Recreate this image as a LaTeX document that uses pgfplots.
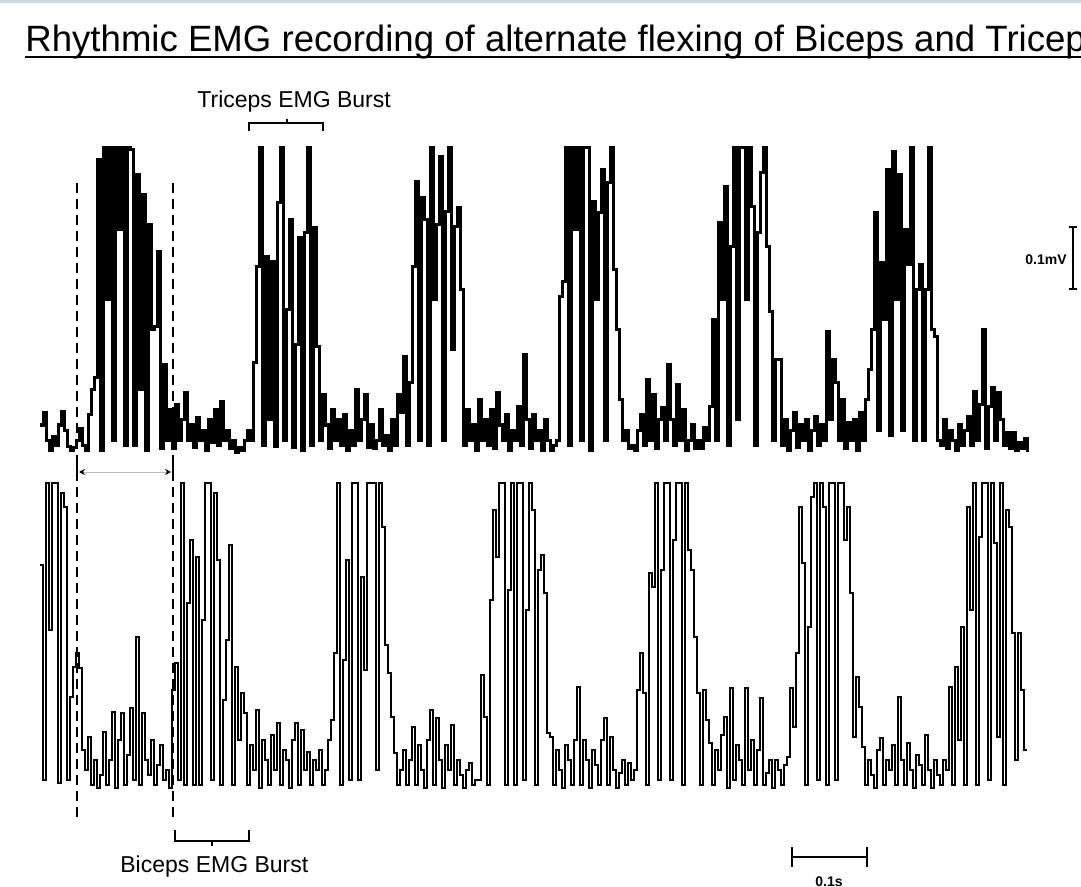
\documentclass[border=0pt]{standalone}
\usepackage{fontspec}
\setmainfont{Liberation Sans}
\usepackage{pgfplots}
\usepackage{pgfplotstable}
\pgfplotsset{compat=1.18}
\usetikzlibrary{arrows.meta}
\definecolor{topband}{RGB}{205,215,228}
\definecolor{arrowgrey}{RGB}{185,185,185}

% pixel y of each trace, one sample every 3 px starting at x = 40
\pgfplotstableread[row sep=\\]{
y\\
425\\ 413\\ 440\\ 450\\ 436\\ 445\\ 425\\ 412\\ 430\\ 446\\
450\\ 447\\ 440\\ 428\\ 445\\ 450\\ 415\\ 390\\ 378\\ 160\\
450\\ 148\\ 300\\ 148\\ 440\\ 148\\ 230\\ 148\\ 445\\ 148\\
150\\ 445\\ 175\\ 390\\ 195\\ 450\\ 225\\ 330\\ 327\\ 252\\
448\\ 365\\ 440\\ 410\\ 448\\ 405\\ 440\\ 420\\ 393\\ 440\\
425\\ 447\\ 418\\ 440\\ 430\\ 450\\ 420\\ 442\\ 410\\ 445\\
402\\ 440\\ 430\\ 448\\ 440\\ 452\\ 447\\ 450\\ 440\\ 430\\
440\\ 363\\ 267\\ 148\\ 445\\ 257\\ 420\\ 262\\ 446\\ 203\\
148\\ 440\\ 310\\ 220\\ 447\\ 345\\ 238\\ 450\\ 233\\ 148\\
445\\ 228\\ 347\\ 440\\ 395\\ 425\\ 448\\ 410\\ 440\\ 420\\
445\\ 415\\ 450\\ 430\\ 445\\ 390\\ 440\\ 420\\ 395\\ 447\\
425\\ 448\\ 440\\ 410\\ 445\\ 435\\ 450\\ 420\\ 445\\ 395\\
413\\ 357\\ 445\\ 383\\ 267\\ 182\\ 440\\ 198\\ 220\\ 445\\
148\\ 300\\ 225\\ 157\\ 440\\ 212\\ 148\\ 350\\ 227\\ 208\\
290\\ 445\\ 410\\ 440\\ 425\\ 450\\ 400\\ 440\\ 420\\ 445\\
410\\ 448\\ 393\\ 425\\ 440\\ 415\\ 450\\ 430\\ 440\\ 407\\
445\\ 355\\ 420\\ 448\\ 415\\ 440\\ 430\\ 450\\ 420\\ 440\\
450\\ 445\\ 440\\ 297\\ 282\\ 148\\ 445\\ 148\\ 230\\ 148\\
440\\ 148\\ 148\\ 450\\ 202\\ 300\\ 213\\ 170\\ 440\\ 183\\
148\\ 270\\ 330\\ 400\\ 440\\ 430\\ 448\\ 445\\ 450\\ 430\\
415\\ 445\\ 380\\ 440\\ 395\\ 448\\ 420\\ 408\\ 440\\ 365\\
420\\ 445\\ 385\\ 440\\ 410\\ 450\\ 440\\ 425\\ 448\\ 440\\
448\\ 427\\ 440\\ 407\\ 320\\ 440\\ 223\\ 300\\ 187\\ 445\\
247\\ 148\\ 420\\ 148\\ 148\\ 300\\ 148\\ 207\\ 445\\ 233\\
173\\ 148\\ 247\\ 312\\ 440\\ 360\\ 360\\ 445\\ 420\\ 450\\
430\\ 413\\ 447\\ 425\\ 440\\ 420\\ 450\\ 430\\ 417\\ 445\\
425\\ 440\\ 332\\ 420\\ 360\\ 383\\ 440\\ 400\\ 448\\ 423\\
440\\ 420\\ 450\\ 413\\ 440\\ 400\\ 370\\ 330\\ 213\\ 430\\
263\\ 320\\ 170\\ 435\\ 152\\ 300\\ 175\\ 430\\ 230\\ 265\\
148\\ 440\\ 290\\ 265\\ 440\\ 290\\ 148\\ 330\\ 337\\ 440\\
445\\ 420\\ 448\\ 430\\ 440\\ 450\\ 425\\ 445\\ 430\\ 417\\
445\\ 392\\ 440\\ 405\\ 330\\ 448\\ 407\\ 388\\ 440\\ 393\\
420\\ 445\\ 432\\ 448\\ 432\\ 450\\ 442\\ 448\\ 438\\ 452\\
}\triceps

\pgfplotstableread[row sep=\\]{
y\\
565\\ 780\\ 483\\ 630\\ 483\\ 483\\ 783\\ 493\\ 507\\ 780\\
697\\ 667\\ 653\\ 668\\ 750\\ 770\\ 737\\ 785\\ 760\\ 788\\
775\\ 732\\ 785\\ 760\\ 712\\ 788\\ 740\\ 713\\ 785\\ 755\\
708\\ 780\\ 637\\ 785\\ 713\\ 760\\ 775\\ 740\\ 785\\ 765\\
745\\ 780\\ 770\\ 788\\ 690\\ 663\\ 780\\ 483\\ 785\\ 603\\
540\\ 785\\ 557\\ 785\\ 620\\ 483\\ 483\\ 780\\ 493\\ 560\\
785\\ 700\\ 640\\ 545\\ 785\\ 667\\ 740\\ 693\\ 713\\ 785\\
745\\ 770\\ 710\\ 788\\ 740\\ 760\\ 785\\ 735\\ 770\\ 723\\
785\\ 750\\ 760\\ 788\\ 740\\ 723\\ 785\\ 730\\ 770\\ 752\\
785\\ 760\\ 770\\ 750\\ 785\\ 770\\ 740\\ 720\\ 653\\ 483\\
785\\ 660\\ 560\\ 780\\ 483\\ 483\\ 780\\ 577\\ 670\\ 483\\
483\\ 483\\ 770\\ 483\\ 527\\ 645\\ 673\\ 717\\ 753\\ 785\\
770\\ 750\\ 785\\ 760\\ 727\\ 785\\ 745\\ 770\\ 788\\ 740\\
710\\ 785\\ 718\\ 760\\ 788\\ 745\\ 770\\ 725\\ 785\\ 760\\
775\\ 788\\ 770\\ 763\\ 785\\ 780\\ 780\\ 675\\ 717\\ 785\\
600\\ 510\\ 557\\ 483\\ 483\\ 785\\ 590\\ 483\\ 785\\ 483\\
483\\ 780\\ 610\\ 483\\ 510\\ 785\\ 570\\ 555\\ 593\\ 733\\
737\\ 785\\ 750\\ 770\\ 788\\ 745\\ 760\\ 785\\ 740\\ 687\\
785\\ 740\\ 760\\ 788\\ 750\\ 765\\ 785\\ 740\\ 718\\ 785\\
737\\ 770\\ 788\\ 773\\ 760\\ 785\\ 763\\ 780\\ 770\\ 690\\
653\\ 693\\ 785\\ 573\\ 587\\ 483\\ 780\\ 570\\ 483\\ 483\\
780\\ 540\\ 483\\ 483\\ 785\\ 483\\ 550\\ 570\\ 637\\ 693\\
785\\ 690\\ 720\\ 743\\ 785\\ 750\\ 770\\ 735\\ 717\\ 788\\
688\\ 780\\ 745\\ 760\\ 785\\ 688\\ 770\\ 740\\ 785\\ 750\\
698\\ 785\\ 773\\ 760\\ 788\\ 760\\ 770\\ 785\\ 765\\ 757\\
688\\ 727\\ 653\\ 507\\ 563\\ 785\\ 627\\ 497\\ 483\\ 780\\
483\\ 507\\ 785\\ 483\\ 483\\ 780\\ 483\\ 483\\ 540\\ 507\\
593\\ 737\\ 677\\ 707\\ 747\\ 785\\ 760\\ 775\\ 788\\ 750\\
738\\ 785\\ 760\\ 770\\ 745\\ 785\\ 697\\ 760\\ 785\\ 743\\
770\\ 788\\ 755\\ 765\\ 785\\ 735\\ 770\\ 788\\ 760\\ 775\\
785\\ 760\\ 770\\ 687\\ 785\\ 667\\ 740\\ 627\\ 785\\ 507\\
610\\ 483\\ 785\\ 537\\ 483\\ 483\\ 780\\ 483\\ 543\\ 737\\
483\\ 785\\ 510\\ 527\\ 633\\ 760\\ 633\\ 690\\ 750\\ 750\\
}\biceps

% 1 px of the reference = 0.5pt
\begin{document}
\begin{tikzpicture}
\useasboundingbox[fill=white] (0,0) rectangle (540.5pt,443.5pt);
\clip (0,0) rectangle (540.5pt,443.5pt);
\begin{axis}[
  at={(0,0)}, anchor=south west,
  scale only axis,
  width=540.5pt, height=443.5pt,
  xmin=0, xmax=1081, ymin=0, ymax=887,
  y dir=reverse,
  axis lines=none,
  clip=false,
]
\fill[topband] (0,0) rectangle (1081,3);

% traces
\addplot[const plot, draw=black, line width=1.5pt, line cap=butt, line join=miter, miter limit=2]
  table[x expr=40+3*\coordindex, y=y] {\triceps};
\addplot[const plot, draw=black, line width=1.35pt, line cap=butt, line join=miter, miter limit=2]
  table[x expr=40+3*\coordindex, y=y] {\biceps};

% title (cut at the right edge, as in the original)
\node[anchor=base west, inner sep=0pt] at (25,52)
  {\fontsize{18.3}{20}\selectfont Rhythmic EMG recording of alternate flexing of Biceps and Triceps};
\draw[line width=1pt] (25,57) -- (1081,57);

% dashed burst markers
\draw[line width=1pt, dash pattern=on 5pt off 3pt] (77,183) -- (77,818);
\draw[line width=1pt, dash pattern=on 5pt off 3pt] (173,183) -- (173,818);
\draw[arrowgrey, line width=0.5pt,
  {Stealth[length=3pt,width=3pt,color=black]}-{Stealth[length=3pt,width=3pt,color=black]}]
  (79,472) -- (171,472);
\draw[line width=0.8pt] (77,465) -- (77,479) (173,465) -- (173,479);

% brackets
\node[anchor=base west, inner sep=0pt, font=\fontsize{11.5}{12}\selectfont] at (197,108) {Triceps EMG Burst};
\draw[line width=0.65pt] (249,131) -- (249,123) -- (323,123) -- (323,131) (287,123) -- (287,119);
\node[anchor=base west, inner sep=0pt, font=\fontsize{11.5}{12}\selectfont] at (120,872) {Biceps EMG Burst};
\draw[line width=0.65pt] (175,830) -- (175,841) -- (249,841) -- (249,830) (212,841) -- (212,846);

% scale bars
\draw[line width=0.8pt] (1073,227) -- (1073,289) (1069,227) -- (1077,227) (1069,289) -- (1077,289);
\node[anchor=east, inner sep=0pt, font=\bfseries\fontsize{7}{8}\selectfont] at (1067,260) {0.1mV};
\draw[line width=0.8pt] (792,857) -- (867,857) (792,847) -- (792,867) (867,847) -- (867,867);
\node[inner sep=0pt, font=\bfseries\fontsize{7}{8}\selectfont] at (829,882) {0.1s};
\end{axis}
\end{tikzpicture}
\end{document}
